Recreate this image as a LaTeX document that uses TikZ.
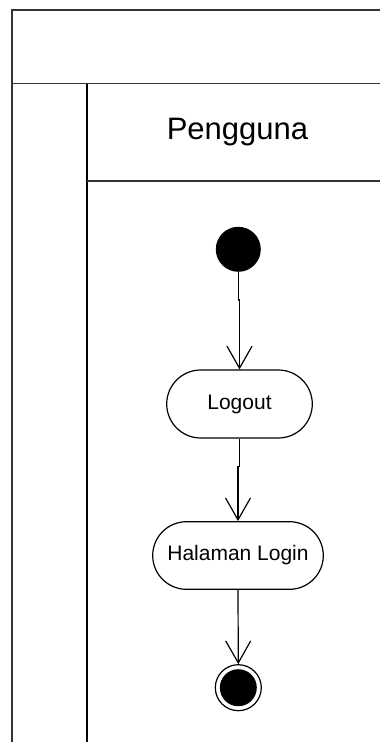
\documentclass[tikz,border=0pt]{standalone}
\usepackage{fontspec}
\setmainfont{Liberation Sans}
\usetikzlibrary{arrows.meta,calc}
\begin{document}
\begin{tikzpicture}[x=1pt,y=-1pt,
  frame/.style={line width=1.4pt,draw=black!80},
  act/.style={draw,line width=1.2pt,rounded corners=33.8pt,minimum width=170.6pt,minimum height=67.6pt,font=\fontsize{21}{25}\selectfont,inner sep=0pt},
  flow/.style={line width=1.2pt,-{Straight Barb[length=22pt,width=25pt,line width=1.2pt]}}]
\useasboundingbox (0,0) rectangle (380,742);
\draw[frame] (12,742) -- (12,10) -- (381,10);
\draw[frame] (12,83.5) -- (381,83.5);
\draw[line width=1.2pt] (87,84) -- (87,742);
\draw[line width=1.2pt,draw=black!80] (87,181) -- (381,181);
\node[font=\fontsize{31}{36}\selectfont] (lane) at (237.5,132) {Pengguna};
\node[circle,fill=black,minimum size=45pt,inner sep=0pt] (init) at (238.3,249.3) {};
\node[act,minimum width=145.6pt,minimum height=68pt,rounded corners=34pt] (logout) at (239.5,404) {Logout};
\node[act] (login) at (238,555.5) {Halaman Login};
\node[circle,draw,line width=1.2pt,minimum size=46pt,inner sep=0pt] (final) at (238.3,687.7) {};
\node[circle,fill=black,minimum size=37pt,inner sep=0pt] (finalin) at (final.center) {};
\draw[flow] (init.south) -- ++(0,28) -| (logout.north);
\draw[flow] (logout.south) -- ++(0,28) -| (login.north);
\draw[flow] (login.south) -- (final.north);
\end{tikzpicture}
\end{document}
